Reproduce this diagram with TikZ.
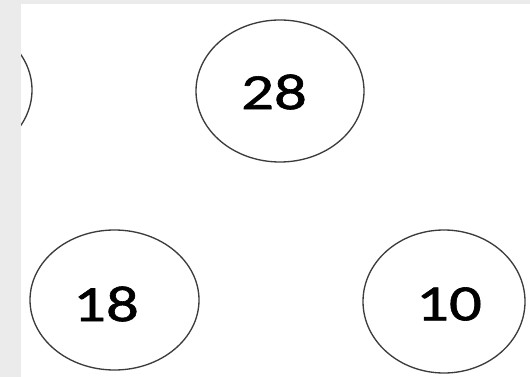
\documentclass[tikz,border=0pt]{standalone}
\usepackage{fontspec}
\usetikzlibrary{shapes.geometric}
\newfontfamily\numfont[FakeStretch=1.28, FakeBold=1.2]{Carlito}
\definecolor{bandgray}{HTML}{EBEBEB}
\definecolor{rimgray}{HTML}{3C3C3C}

\begin{document}
\begin{tikzpicture}[
    x=0.75pt, y=-0.75pt,
    bubble/.style={ellipse, draw=rimgray, line width=1pt, minimum width=126pt, minimum height=106.5pt, inner sep=0pt},
    num/.style={font=\numfont\fontsize{38}{40}\selectfont, text=black, inner sep=0pt}
]
\useasboundingbox (0,0) rectangle (530,377);

% Page and grey margins
\fill[bandgray] (0,0) rectangle (530,377);
\fill[white] (21,4) rectangle (530,377);

% Ellipses
\begin{scope}
\clip (21,4) rectangle (530,377);
\node[bubble] (eLeft) at (-52,90) {};
\node[bubble] (e28) at (280,91) {};
\node[bubble, minimum width=126.75pt, minimum height=105pt] (e18) at (114.5,300) {};
\node[bubble, minimum width=121.5pt, minimum height=107.25pt] (e10) at (444,301.5) {};
\end{scope}

% Numbers
\node[num] (t28) at (274,92) {28};
\node[num] (t18) at (106,304) {18};
\node[num] (t10) at (449,304) {10};

\end{tikzpicture}
\end{document}
